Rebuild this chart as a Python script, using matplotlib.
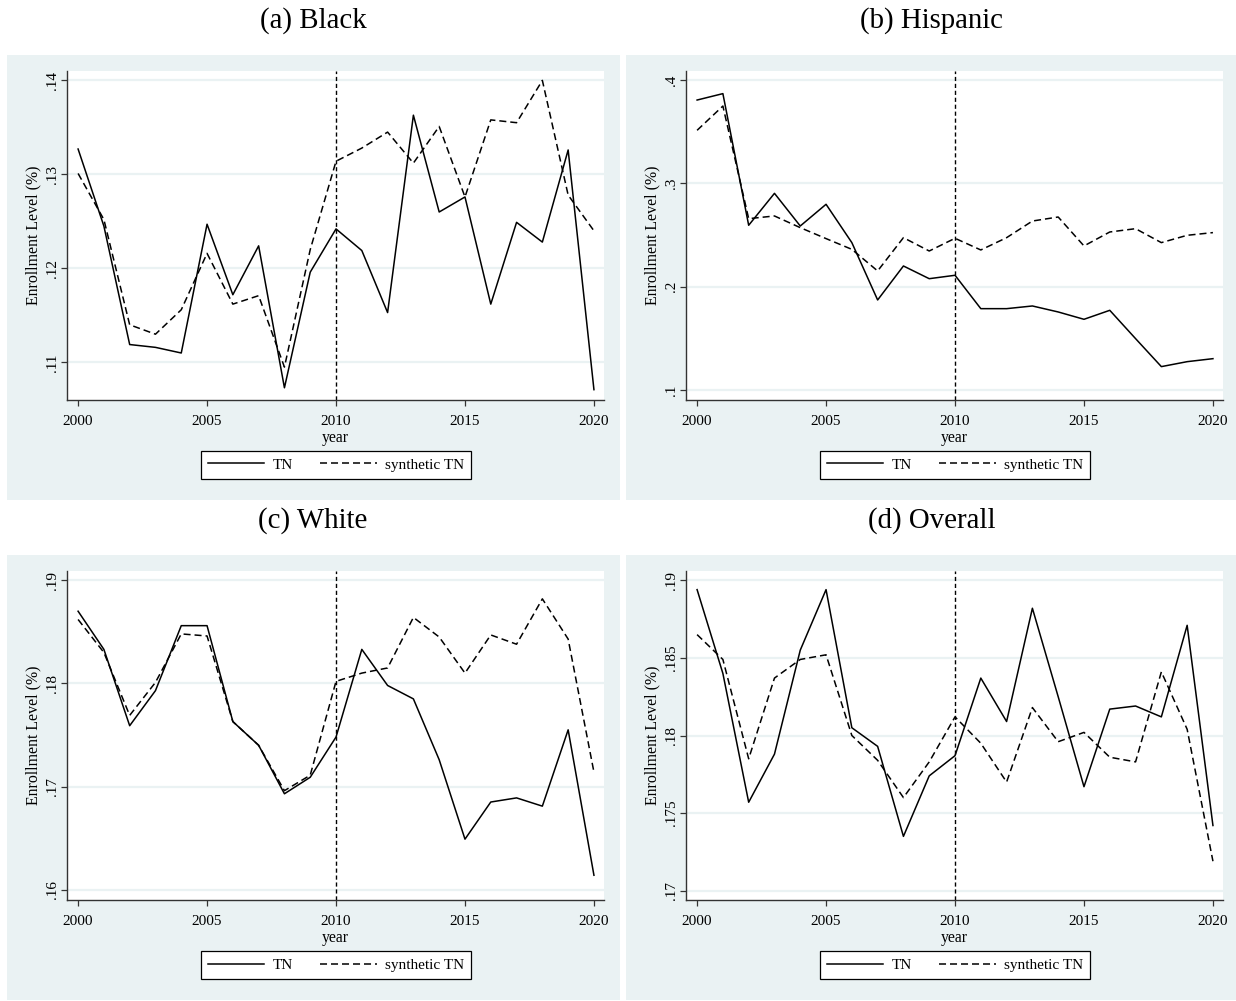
import numpy as np
import matplotlib.pyplot as plt
from matplotlib.patches import Rectangle
from matplotlib.lines import Line2D

plt.rcParams['font.family'] = ['Liberation Serif', 'DejaVu Serif']

years = np.arange(2000, 2021)

# enrollment level, TN vs synthetic TN
black_tn = [.1327, .1245, .1119, .1116, .1110, .1247, .1172, .1224, .1073, .1196,
            .1242, .1219, .1153, .1363, .1260, .1276, .1162, .1249, .1228, .1326, .1071]
black_synth = [.1301, .1252, .1140, .1130, .1156, .1216, .1162, .1171, .1095, .1220,
               .1314, .1328, .1345, .1312, .1351, .1276, .1358, .1355, .1400, .1278, .1240]

hisp_tn = [.3806, .3868, .2594, .2903, .2587, .2797, .2426, .1871, .2200, .2077,
           .2110, .1787, .1787, .1813, .1755, .1684, .1771, .1497, .1226, .1274, .1303]
hisp_synth = [.3513, .3748, .2658, .2684, .2571, .2465, .2361, .2152, .2474, .2345,
              .2468, .2355, .2474, .2635, .2674, .2394, .2529, .2561, .2426, .2497, .2523]

white_tn = [.1870, .1833, .1759, .1793, .1856, .1856, .1763, .1740, .1693, .1709,
            .1748, .1833, .1798, .1785, .1726, .1649, .1685, .1689, .1681, .1755, .1614]
white_synth = [.1862, .1830, .1769, .1801, .1848, .1846, .1763, .1740, .1696, .1711,
               .1802, .1810, .1815, .1864, .1845, .1810, .1847, .1838, .1882, .1843, .1714]

overall_tn = [.1894, .1840, .1757, .1788, .1855, .1894, .1805, .1793, .1735, .1774,
              .1787, .1837, .1809, .1882, .1825, .1767, .1817, .1819, .1812, .1871, .1742]
overall_synth = [.1865, .1849, .1785, .1837, .1849, .1852, .1800, .1784, .1760, .1783,
                 .1812, .1795, .1770, .1818, .1796, .1802, .1786, .1783, .1841, .1804, .1719]

titles = ['(a) Black', '(b) Hispanic', '(c) White', '(d) Overall']
yticks = [[.11, .12, .13, .14], [.1, .2, .3, .4], [.16, .17, .18, .19], [.17, .175, .18, .185, .19]]
ytick_labels = [['.11', '.12', '.13', '.14'], ['.1', '.2', '.3', '.4'],
                ['.16', '.17', '.18', '.19'], ['.17', '.175', '.18', '.185', '.19']]
ylims = [(.1060, .1410), (.0903, .4087), (.1590, .1909), (.1694, .1906)]
series = [(black_tn, black_synth), (hisp_tn, hisp_synth),
          (white_tn, white_synth), (overall_tn, overall_synth)]

W, H = 1236, 1001
BG = '#eaf2f3'
DASH = (0, (4.6, 2.6))
fig = plt.figure(figsize=(W / 100, H / 100), dpi=100)


def fbox(x0, y0, x1, y1):
    return [x0 / W, 1 - y1 / H, (x1 - x0) / W, (y1 - y0) / H]


for i in range(4):
    col, row = i % 2, i // 2
    dx = 619 * col
    dy = 500 * row

    # light panel background
    bx0 = 7 if col == 0 else 626
    bx1 = 620 if col == 0 else 1236
    l, b, w, h = fbox(bx0, 55 + dy, bx1, 500 + dy)
    fig.patches.append(Rectangle((l, b), w, h, transform=fig.transFigure,
                                 facecolor=BG, edgecolor='none', zorder=-10))

    fig.text((313 + dx) / W, 1 - (21 + dy) / H, titles[i], ha='center', va='center',
             fontsize=20.8)

    ax = fig.add_axes(fbox(67 + dx, 71 + dy, 604 + dx, 400 + dy))
    ax.set_facecolor('white')
    tn, synth = series[i]
    ax.plot(years, tn, color='black', lw=1.1)
    ax.plot(years, synth, color='black', lw=1.1, ls=DASH)
    ax.axvline(2010, color='black', lw=1, ls=(0, (3, 2)))

    ax.set_xlim(1999.57, 2020.39)
    ax.set_ylim(*ylims[i])
    ax.set_xticks([2000, 2005, 2010, 2015, 2020])
    ax.set_yticks(yticks[i])
    ax.set_yticklabels(ytick_labels[i], rotation=90, va='center')
    ax.yaxis.grid(True, color=BG, lw=1.6)
    ax.set_axisbelow(True)
    for s in ['top', 'right']:
        ax.spines[s].set_visible(False)
    for s in ['left', 'bottom']:
        ax.spines[s].set_color('#333333')
        ax.spines[s].set_linewidth(1)
    ax.tick_params(direction='out', length=4.5, width=0.9, color='#333333',
                   labelsize=11)
    ax.tick_params(axis='x', pad=6.5)
    ax.tick_params(axis='y', pad=1.5)
    ax.set_xlabel('year', fontsize=11.3, labelpad=1)
    ax.set_ylabel('Enrollment Level (%)', fontsize=11.4, labelpad=3)

    handles = [Line2D([], [], color='black', lw=1.1),
               Line2D([], [], color='black', lw=1.1, ls=DASH)]
    leg = ax.legend(handles, ['TN', 'synthetic TN'], loc='center', ncol=2,
                    bbox_to_anchor=((336 + dx) / W, 1 - (465 + dy) / H),
                    bbox_transform=fig.transFigure, fontsize=11, frameon=True,
                    fancybox=False, edgecolor='black', framealpha=1,
                    handlelength=3.7, columnspacing=1.8, handletextpad=0.55,
                    borderpad=0.45, borderaxespad=0)
    leg.get_frame().set_linewidth(0.9)

fig.savefig('out.png', dpi=100)
